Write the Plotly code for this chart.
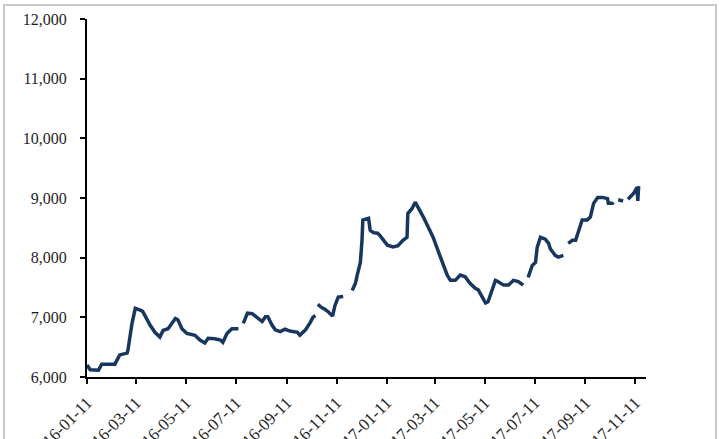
import plotly.graph_objects as go

dates = [
    "2016-01-11", "2016-01-15", "2016-01-25", "2016-01-29", "2016-02-14", "2016-02-20",
    "2016-02-29", "2016-03-01", "2016-03-06", "2016-03-10", "2016-03-16", "2016-03-19",
    "2016-03-23", "2016-03-28", "2016-04-03", "2016-04-09", "2016-04-13", "2016-04-19",
    "2016-04-28", "2016-05-01", "2016-05-06", "2016-05-12", "2016-05-22", "2016-05-28",
    "2016-06-03", "2016-06-07", "2016-06-15", "2016-06-22", "2016-06-25", "2016-06-30",
    "2016-07-06", "2016-07-14", "2016-07-17", "2016-07-20", "2016-07-25", "2016-07-31",
    "2016-08-06", "2016-08-12", "2016-08-16", "2016-08-19", "2016-08-24", "2016-08-28",
    "2016-09-03", "2016-09-09", "2016-09-15", "2016-09-24", "2016-09-27", "2016-10-04",
    "2016-10-10", "2016-10-13", "2016-10-16", "2016-10-18", "2016-10-19", "2016-10-23",
    "2016-10-28", "2016-11-01", "2016-11-06", "2016-11-09", "2016-11-13", "2016-11-19",
    "2016-11-25", "2016-11-30", "2016-12-04", "2016-12-06", "2016-12-10", "2016-12-12",
    "2016-12-13", "2016-12-20", "2016-12-22", "2016-12-26", "2016-12-31", "2017-01-03",
    "2017-01-07", "2017-01-12", "2017-01-19", "2017-01-25", "2017-01-31", "2017-02-05",
    "2017-02-06", "2017-02-11", "2017-02-15", "2017-02-19", "2017-02-25", "2017-03-03",
    "2017-03-09", "2017-03-14", "2017-03-18", "2017-03-21", "2017-03-26", "2017-03-30",
    "2017-04-05", "2017-04-11", "2017-04-17", "2017-04-23", "2017-04-29", "2017-05-03",
    "2017-05-08", "2017-05-12", "2017-05-15", "2017-05-20", "2017-05-24", "2017-05-27",
    "2017-06-03", "2017-06-09", "2017-06-15", "2017-06-21", "2017-06-27", "2017-06-30",
    "2017-07-03", "2017-07-08", "2017-07-12", "2017-07-14", "2017-07-18", "2017-07-24",
    "2017-07-28", "2017-07-30", "2017-08-05", "2017-08-09", "2017-08-15", "2017-08-18",
    "2017-08-21", "2017-08-26", "2017-08-30", "2017-09-02", "2017-09-07", "2017-09-13",
    "2017-09-17", "2017-09-21", "2017-09-26", "2017-10-02", "2017-10-08", "2017-10-09",
    "2017-10-14", "2017-10-15", "2017-10-17", "2017-10-21", "2017-10-27", "2017-10-29",
    "2017-11-02", "2017-11-09", "2017-11-13", "2017-11-14", "2017-11-15",
]

prices = [
    6200, 6120, 6115, 6215, 6215, 6370,
    6400, 6450, 6900, 7150, 7120, 7100,
    7000, 6870, 6750, 6670, 6780, 6810,
    6980, 6960, 6810, 6730, 6700, 6620,
    6570, 6650, 6640, 6620, 6580, 6730,
    6810, 6810, None, 6900, 7070, 7060,
    6990, 6930, 7010, 7010, 6870, 6790,
    6760, 6800, 6770, 6750, 6700, 6790,
    6920, 7000, 7030, None, 7220, 7170,
    7130, 7090, 7020, 7200, 7340, 7350,
    None, 7450, 7570, 7700, 7920, 8290,
    8630, 8660, 8460, 8420, 8410, 8370,
    8290, 8210, 8180, 8200, 8290, 8340,
    8740, 8820, 8930, 8840, 8680, 8510,
    8340, 8150, 8010, 7900, 7710, 7620,
    7620, 7710, 7680, 7570, 7490, 7460,
    7340, 7240, 7260, 7460, 7620, 7600,
    7540, 7540, 7620, 7600, 7540, None,
    7670, 7870, 7920, 8170, 8340, 8310,
    8240, 8150, 8040, 8010, 8040, None,
    8240, 8290, 8290, 8410, 8630, 8630,
    8680, 8910, 9010, 9010, 8990, 8910,
    8910, 8930, None, 8970, 8950, None,
    8980, 9080, 9180, 8950, 9200,
]

tick_dates = [
    "2016-01-11", "2016-03-11", "2016-05-11", "2016-07-11", "2016-09-11", "2016-11-11",
    "2017-01-11", "2017-03-11", "2017-05-11", "2017-07-11", "2017-09-11", "2017-11-11",
]
y_ticks = [6000, 7000, 8000, 9000, 10000, 11000, 12000]
y_labels = ["6,000", "7,000", "8,000", "9,000", "10,000", "11,000", "12,000"]

fig = go.Figure()
fig.add_trace(go.Scatter(
    x=dates, y=prices, mode="lines",
    line=dict(color="#17375e", width=3.5),
    connectgaps=False, showlegend=False,
))

xfont = dict(family="Liberation Serif", size=17, color="#1e1e1e")
yfont = dict(family="Liberation Serif", size=16, color="#1e1e1e")

fig.update_layout(
    width=720, height=439,
    margin=dict(l=87, r=74, t=19, b=62),
    paper_bgcolor="white", plot_bgcolor="white",
    showlegend=False,
    xaxis=dict(
        range=["2016-01-11", "2017-11-24"],
        tickmode="array", tickvals=tick_dates, ticktext=tick_dates,
        tickangle=-45, tickfont=xfont,
        showgrid=False, zeroline=False,
        showline=True, linecolor="black", linewidth=2,
        ticks="outside", ticklen=5, tickwidth=2, tickcolor="black",
        ticklabelstandoff=2, automargin=False,
    ),
    yaxis=dict(
        range=[6000, 12000],
        tickmode="array", tickvals=y_ticks, ticktext=y_labels,
        tickfont=yfont,
        showgrid=False, zeroline=False,
        showline=True, linecolor="black", linewidth=2,
        ticks="outside", ticklen=5, tickwidth=2, tickcolor="black",
        ticklabelstandoff=10, automargin=False,
    ),
    shapes=[dict(
        type="rect", xref="paper", yref="paper",
        x0=(4 - 87) / 559, x1=(716 - 87) / 559,
        y0=-0.5, y1=(377 - 5) / 358,
        line=dict(color="#c8c8c8", width=2), fillcolor="rgba(0,0,0,0)",
        layer="below",
    )],
)

fig.write_html("out.html")
